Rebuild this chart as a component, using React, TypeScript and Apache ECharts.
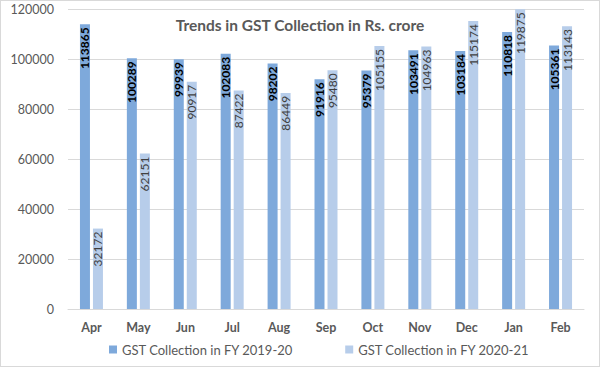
import React, { useEffect, useRef } from "react";
import * as echarts from "echarts";

const months = ["Apr", "May", "Jun", "Jul", "Aug", "Sep", "Oct", "Nov", "Dec", "Jan", "Feb"];
const fy1920 = [113865, 100289, 99939, 102083, 98202, 91916, 95379, 103491, 103184, 110818, 105361];
const fy2021 = [32172, 62151, 90917, 87422, 86449, 95480, 105155, 104963, 115174, 119875, 113143];
const seriesNames = ["GST Collection in FY 2019-20", "GST Collection in FY 2020-21"];
const titleText = "Trends in GST Collection in Rs. crore";

const FONT = "Lato, 'Open Sans', sans-serif";

export default function App() {
  const ref = useRef<HTMLDivElement>(null);
  useEffect(() => {
    document.body.style.margin = "0";
    const chart = echarts.init(ref.current!, null, { renderer: "svg" });
    const labelBase = {
      show: true,
      position: "insideTop" as const,
      rotate: 90,
      align: "right" as const,
      verticalAlign: "middle" as const,
      fontSize: 12,
      fontFamily: FONT,
      distance: 3,
      textBorderWidth: 0,
    };
    chart.setOption({
      animation: false,
      textStyle: { fontFamily: FONT },
      title: {
        text: titleText,
        left: "center",
        top: 11,
        textStyle: { fontSize: 15.5, fontWeight: "bold", color: "#595959", fontFamily: FONT },
      },
      legend: {
        bottom: 5,
        left: 103,
        itemWidth: 8,
        itemHeight: 8,
        itemGap: 52,
        icon: "rect",
        textStyle: { fontSize: 13, color: "#595959", fontFamily: FONT },
        data: seriesNames,
      },
      grid: { left: 67, right: 15, top: 8, bottom: 57 },
      xAxis: {
        type: "category",
        data: months,
        axisTick: { show: false },
        axisLine: { lineStyle: { color: "#d9d9d9" } },
        axisLabel: { color: "#595959", fontSize: 12.5, fontWeight: "bold", margin: 12, fontFamily: FONT },
      },
      yAxis: {
        type: "value",
        min: 0,
        max: 120000,
        interval: 20000,
        axisLabel: {
          color: "#595959",
          fontSize: 12.5,
          margin: 14,
          fontFamily: FONT,
          formatter: (v: number) => String(v),
        },
        splitLine: { lineStyle: { color: "#d9d9d9" } },
      },
      series: [
        {
          name: seriesNames[0],
          type: "bar",
          data: fy1920,
          barWidth: 10,
          barGap: "30%",
          itemStyle: { color: "#7EA9DB" },
          label: { ...labelBase, color: "#000000", fontWeight: "bold" },
        },
        {
          name: seriesNames[1],
          type: "bar",
          data: fy2021,
          barWidth: 10,
          itemStyle: { color: "#B7CDEA" },
          label: { ...labelBase, color: "#404040" },
        },
      ],
    });
    return () => chart.dispose();
  }, []);
  return (
    <div
      ref={ref}
      style={{ width: 600, height: 367, boxSizing: "border-box", border: "1px solid #d9d9d9", background: "#fff" }}
    />
  );
}
